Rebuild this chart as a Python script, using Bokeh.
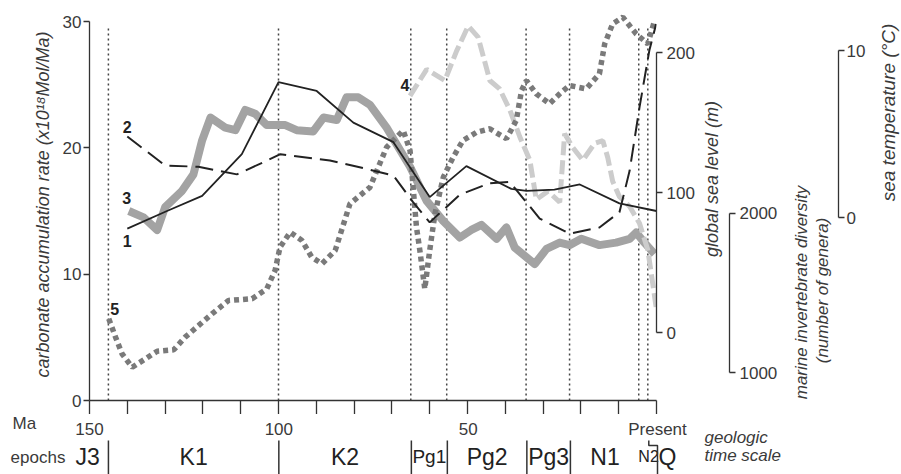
import math
from bokeh.plotting import figure
from bokeh.layouts import column, row
from bokeh.models import Range1d, LinearAxis, FixedTicker, Label
from bokeh.core.properties import value
from bokeh.embed import file_html
from bokeh.resources import INLINE

# ---------------- data ----------------
ma_ticks = [150, 140, 130, 120, 110, 100, 90, 80, 70, 60, 50, 40, 30, 20, 10, 0]
ma_tick_labels = {150: "150", 100: "100", 50: "50", 0: "Present"}
carb_ticks = [0, 10, 20, 30]
sea_ticks = [0, 100, 200]
div_ticks = [1000, 2000]
temp_ticks = [0, 10]

boundaries = [145, 100, 65, 55.5, 34.5, 23, 4.7, 2.3]
epoch_names = ["J3", "K1", "K2", "Pg1", "Pg2", "Pg3", "N1", "N2", "Q"]
epoch_edges = [156, 145, 100, 65, 55.5, 34.5, 23, 4.7, 0, -5.2]

# 1: carbonate accumulation (solid black)
s1_age = [140, 129.5, 120.2, 109.7, 100, 89.9, 80.2, 69.6, 60, 50.3, 38.4, 34.4, 27, 20.3, 9.8, 0]
s1_val = [13.6, 15.0, 16.2, 19.5, 25.2, 24.5, 22.0, 20.45, 16.1, 18.55, 16.75, 16.6, 16.7, 17.1, 15.6, 15.0]

# 2: carbonate accumulation (black dashed)
s2_age = [140, 130, 121.2, 111, 103, 99.5, 86.4, 77.6, 69.6, 64.4, 60, 52, 44.1, 38.8, 30.9, 23, 15.1, 9.8, 7.1, 4.5, 1.9, 0.1]
s2_val = [20.9, 18.6, 18.5, 17.9, 19.0, 19.5, 19.0, 18.4, 17.8, 15.7, 14.1, 16.3, 17.2, 17.3, 14.4, 13.2, 13.7, 14.9, 18.2, 23.2, 27.7, 29.8]

# 3: carbonate accumulation (thick grey)
s3_age = [139.6, 135.7, 132.1, 130, 125.5, 122.5, 120.2, 118, 114.1, 111.4, 108.8, 106.2, 103.1, 98.2,
          95.2, 90.8, 88.1, 84.6, 82, 78.9, 75.8, 71.4, 65.2, 60.8, 56.4, 52, 49, 46.3, 42.3, 39.7,
          37.5, 32.2, 29.1, 25.6, 23, 19.9, 15.1, 10.7, 7.1, 5.4, 3.2, 0.5]
s3_val = [15.0, 14.5, 13.5, 15.3, 16.6, 17.9, 20.6, 22.4, 21.6, 21.4, 23.0, 22.7, 21.8, 21.8,
          21.4, 21.3, 22.4, 22.2, 24.0, 24.0, 23.4, 21.6, 18.5, 15.8, 14.2, 12.9, 13.5, 13.9, 12.8, 13.7,
          12.1, 10.8, 12.0, 12.5, 12.3, 12.8, 12.3, 12.5, 12.8, 13.3, 12.5, 11.6]

# 4: global sea level (m), light grey dashed
s4_age = [65.2, 60.8, 56, 52.9, 49.8, 47.2, 44.1, 41.5, 38.8, 36.2, 33.5, 31.8, 28.7, 25.6, 24.3,
          22.1, 19.5, 16.4, 14.2, 12.9, 11.6, 9.8, 7.1, 4.5, 2.3, 1, 0.1]
s4_val = [169, 188, 180, 201, 219, 211, 180, 174, 159, 140, 123, 95, 101, 93, 142,
          132, 123, 135, 137, 125, 108, 97, 90, 78, 59, 35, 18]

# 5: marine invertebrate diversity (genera), dotted grey
s5_age = [144.9, 143.1, 141.4, 138.7, 135.2, 132.1, 127.7, 124.7, 121.1, 117.6, 113.2, 107.0, 103.1,
          100.9, 99.6, 96.9, 93.8, 91.2, 88.5, 85.0, 81.1, 75.8, 71.4, 67.0, 65.2, 63.5, 62.6, 61.3,
          60.0, 58.6, 56.4, 53.8, 51.2, 47.6, 44.1, 39.7, 37.1, 35.7, 34.4, 31.8, 28.3, 25.6, 23.0,
          18.6, 15.1, 13.7, 11.6, 8.9, 5.4, 2.3, 0.5]
s5_val = [1338, 1222, 1118, 1033, 1086, 1134, 1143, 1222, 1296, 1369, 1453, 1464, 1526,
          1642, 1788, 1882, 1830, 1725, 1684, 1767, 2061, 2165, 2417, 2522, 2396, 1914, 1767, 1526,
          1767, 2000, 2228, 2354, 2459, 2511, 2533, 2470, 2585, 2774, 2836, 2753, 2690, 2753, 2805,
          2784, 2879, 3067, 3193, 3235, 3130, 3067, 3214]

FONT = "Liberation Sans"
AX = "#333333"
TXT = "#3a3a3a"

TOP_H = 414
sea_rng = Range1d(-48.57, 231.43)
div_rng = Range1d(823.9, 3289.3)
temp_rng = Range1d(-10.958, 12.515)


def no_align(fig):
    try:
        fig.frame_align = False
    except Exception:
        pass
    fig.xgrid.visible = False
    fig.ygrid.visible = False
    fig.outline_line_color = None


def style_axis(ax, tick_out=6, standoff=3):
    ax.axis_line_color = AX
    ax.axis_line_width = 1.3
    ax.major_tick_line_color = AX
    ax.major_tick_line_width = 1.3
    ax.major_tick_out = tick_out
    ax.major_tick_in = 0
    ax.minor_tick_line_color = None
    ax.major_label_text_font = FONT
    ax.major_label_text_font_size = "17px"
    ax.major_label_text_color = TXT
    ax.major_label_standoff = standoff


def vtitle(fig, txt, x, y, size="18px"):
    fig.text(x=[x], y=[y], text=[txt], angle=math.pi / 2, y_range_name="px",
             text_font=value(FONT), text_font_size=size, text_font_style="italic",
             text_color=TXT, text_align="center", text_baseline="middle")


# ================= main chart =================
p = figure(width=697, height=TOP_H, x_range=Range1d(150, 0), y_range=Range1d(0, 31.03),
           output_backend="svg", toolbar_location=None,
           min_border_left=89, min_border_right=40, min_border_top=8, min_border_bottom=14)
p.extra_y_ranges = {"sea": sea_rng, "div": div_rng}
no_align(p)

xa = p.xaxis[0]
xa.ticker = FixedTicker(ticks=ma_ticks)
style_axis(xa, tick_out=14, standoff=0)
xa.major_label_overrides = {t: " " for t in ma_ticks}
xa.major_label_text_font_size = "0px"

ya = p.yaxis[0]
ya.ticker = FixedTicker(ticks=carb_ticks)
ya.bounds = (0, 30)
style_axis(ya, tick_out=6, standoff=2)
ya.axis_label = "carbonate accumulation rate (x10\u00b9\u2078Mol/Ma)"
ya.axis_label_text_font = FONT
ya.axis_label_text_font_style = "italic"
ya.axis_label_text_font_size = "18px"
ya.axis_label_text_color = TXT
ya.axis_label_standoff = 7

sea_ax = LinearAxis(y_range_name="sea", ticker=FixedTicker(ticks=sea_ticks), bounds=(0, 200))
style_axis(sea_ax, 6, 4)
p.add_layout(sea_ax, "right")

p.segment(x0=boundaries, y0=0, x1=boundaries, y1=29.5, line_color="#444444",
          line_width=1.5, line_dash="2 3")

p.line(s3_age, s3_val, line_color="#a3a3a3", line_width=8, line_join="round")
p.line(s4_age, s4_val, y_range_name="sea", line_color="#cccccc", line_width=5, line_dash="14 5")
p.line(s5_age, s5_val, y_range_name="div", line_color="#7a7a7a", line_width=5.5, line_dash="5 4")
p.line(s1_age, s1_val, line_color="#222222", line_width=1.8)
p.line(s2_age, s2_val, line_color="#222222", line_width=2, line_dash="18 8")


def num_label(txt, x, y, xo, yo, rng="default"):
    p.add_layout(Label(x=x, y=y, x_offset=xo, y_offset=yo, y_range_name=rng, text=txt,
                       text_font=FONT, text_font_size="16px", text_font_style="bold",
                       text_color="#222222", text_align="center", text_baseline="middle"))


num_label("1", s1_age[0], s1_val[0], 0, -12)
num_label("2", s2_age[0], s2_val[0], 0, 9)
num_label("3", s3_age[0], s3_val[0], -2, 13)
num_label("4", s4_age[0], s4_val[0], -5, 11, "sea")
num_label("5", s5_age[0], s5_val[0], 6, 10, "div")

# ===== right strip 1: sea-level title + diversity axis =====
fd = figure(width=83, height=TOP_H, x_range=Range1d(697, 731), y_range=div_rng,
            output_backend="svg", toolbar_location=None, x_axis_location=None,
            y_axis_location=None, min_border_left=0, min_border_right=49,
            min_border_top=8, min_border_bottom=14)
fd.extra_y_ranges = {"px": Range1d(400, 8)}
no_align(fd)
div_ax = LinearAxis(ticker=FixedTicker(ticks=div_ticks), bounds=(1000, 2000))
style_axis(div_ax, 6, 4)
fd.add_layout(div_ax, "right")
vtitle(fd, "global sea level (m)", 712, 178.5)

# ===== right strip 2: diversity title + temperature axis =====
fe = figure(width=88, height=TOP_H, x_range=Range1d(780, 840), y_range=temp_rng,
            output_backend="svg", toolbar_location=None, x_axis_location=None,
            y_axis_location=None, min_border_left=0, min_border_right=28,
            min_border_top=8, min_border_bottom=14)
fe.extra_y_ranges = {"px": Range1d(400, 8)}
no_align(fe)
temp_ax = LinearAxis(ticker=FixedTicker(ticks=temp_ticks), bounds=(0, 10))
style_axis(temp_ax, 6, 2)
fe.add_layout(temp_ax, "right")
vtitle(fe, "marine invertebrate diversity", 802, 292, "17px")
vtitle(fe, "(number of genera)", 823, 290, "17px")

# ===== right strip 3: temperature title =====
ff = figure(width=33, height=TOP_H, x_range=Range1d(868, 901), y_range=Range1d(414, 0),
            output_backend="svg", toolbar_location=None, x_axis_location=None,
            y_axis_location=None, min_border=0)
ff.extra_y_ranges = {"px": Range1d(414, 0)}
no_align(ff)
vtitle(ff, "sea temperature (\u00b0C)", 888, 112, "19px")

# ================= time-scale strip (same age scale, full-width frame) =================
px_per_ma = 568 / 150.0
fb = figure(width=901, height=474 - TOP_H,
            x_range=Range1d(150 + 89 / px_per_ma, 0 - 244 / px_per_ma),
            y_range=Range1d(474, TOP_H),
            output_backend="svg", toolbar_location=None, min_border=0,
            x_axis_location=None, y_axis_location=None)
no_align(fb)

lab_x = [t for t in ma_ticks if t in ma_tick_labels]
lab_t = [ma_tick_labels[t] for t in lab_x]
fb.text(x=lab_x, y=428.5, text=lab_t, text_font=value(FONT), text_font_size="17px",
        text_align="center", text_baseline="middle", text_color=TXT)

left_edge = ma_ticks[0] + 77 / px_per_ma
fb.text(x=[left_edge], y=[423], text=["Ma"], text_font=value(FONT), text_font_size="17px",
        text_align="left", text_baseline="middle", text_color=TXT)
fb.text(x=[left_edge + 0.5], y=[457], text=["epochs"], text_font=value(FONT), text_font_size="17px",
        text_align="left", text_baseline="middle", text_color=TXT)
right_txt = ma_ticks[-1] - 47 / px_per_ma
fb.text(x=[right_txt, right_txt], y=[436.5, 454.5], text=["geologic", "time scale"],
        text_font=value(FONT), text_font_size="17px", text_font_style="italic",
        text_align="left", text_baseline="middle", text_color=TXT)

mids = [(epoch_edges[i] + epoch_edges[i + 1]) / 2 for i in range(len(epoch_names))]
sizes = {"Pg1": "19px", "N2": "16px"}
for m, n in zip(mids, epoch_names):
    fb.text(x=[m], y=[456], text=[n], text_font=value(FONT), text_font_size=sizes.get(n, "23px"),
            text_align="center", text_baseline="middle", text_color="#222222")

sep = epoch_edges[1:-3]
fb.segment(x0=sep, y0=440, x1=sep, y1=474, line_color="#333333", line_width=1.5)
n2q = epoch_edges[-2]
fb.line(x=[boundaries[-1], boundaries[-1], n2q, n2q], y=[440, 445, 445, 474],
        line_color="#333333", line_width=1.5)

layout = column(row(p, fd, fe, ff, spacing=0), fb, spacing=0)
open("out.html", "w").write(file_html(layout, INLINE))
